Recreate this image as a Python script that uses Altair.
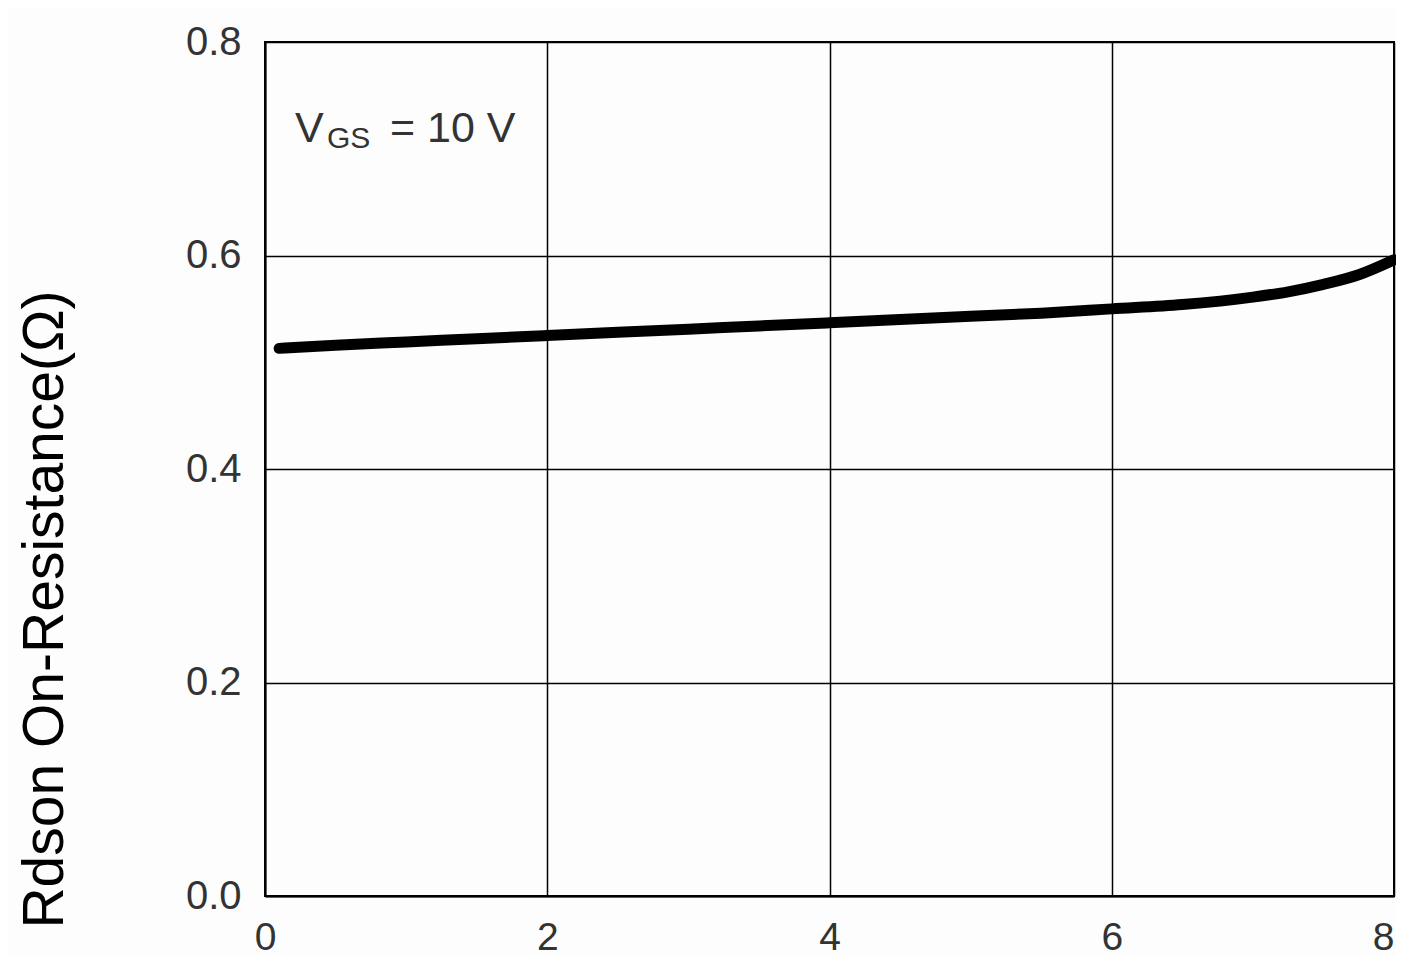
import altair as alt
import pandas as pd

# Curve data
vds = [0.1, 0.5, 1.0, 1.5, 2.0, 2.5, 3.0, 3.5, 4.0, 4.5, 5.0, 5.5, 6.0, 6.5, 7.0, 7.25, 7.5, 7.75, 8.0]
rdson = [0.513, 0.516, 0.519, 0.522, 0.525, 0.528, 0.531, 0.534, 0.537, 0.540, 0.543, 0.546, 0.550, 0.554, 0.561, 0.566, 0.573, 0.582, 0.596]

x_ticks = [0, 2, 4, 6, 8]
y_ticks = [0.0, 0.2, 0.4, 0.6, 0.8]

# Annotation "V_GS = 10 V" parts
ann_text = ["V", "GS", "= 10 V"]
ann_x = [0.213, 0.439, 0.886]
ann_y = [0.7063, 0.7007, 0.7063]
ann_size = [43, 30, 43]

FONT = "Liberation Sans"

df = pd.DataFrame({"x": vds, "y": rdson})
ann = pd.DataFrame({"t": ann_text, "x": ann_x, "y": ann_y, "s": ann_size})

xscale = alt.Scale(domain=[0, 8], nice=False)
yscale = alt.Scale(domain=[0, 0.8], nice=False)

line = alt.Chart(df).mark_line(color="black", strokeWidth=11, interpolate="monotone",
                               strokeCap="round").encode(
    x=alt.X("x:Q", scale=xscale,
            axis=alt.Axis(values=x_ticks, title=None, grid=True, gridColor="black",
                          gridWidth=1.5, gridOpacity=1, ticks=False, domain=True,
                          domainColor="black", domainWidth=2, labelFont=FONT,
                          labelFontSize=39, labelColor="#333333", labelPadding=22,
                          labelFlush=False, labelOverlap=False, format="d",
                          labelAlign=alt.ExprRef(expr="datum.value == 8 ? 'right' : 'center'"))),
    y=alt.Y("y:Q", scale=yscale,
            axis=alt.Axis(values=y_ticks, format=".1f", grid=True, gridColor="black",
                          gridWidth=1.5, gridOpacity=1, ticks=False, domain=True,
                          domainColor="black", domainWidth=2, labelFont=FONT,
                          labelFontSize=40, labelColor="#333333", labelPadding=24,
                          labelFlush=False, labelOverlap=False,
                          title="Rdson On-Resistance(Ω)", titleFont=FONT,
                          titleFontSize=57, titleFontWeight="normal", titleColor="black",
                          titleAngle=270, titleAlign="center", titleBaseline="alphabetic",
                          titleX=-203, titleY=567)),
)

text = alt.Chart(ann).mark_text(align="left", baseline="alphabetic", font=FONT,
                                color="#333333").encode(
    x=alt.X("x:Q", scale=xscale),
    y=alt.Y("y:Q", scale=yscale),
    text="t:N",
    size=alt.Size("s:Q", scale=None, legend=None),
)

chart = (line + text).properties(
    width=1129, height=854,
    autosize=alt.AutoSizeParams(type="none"),
    padding={"left": 257, "top": 34, "right": 2, "bottom": 61},
    background="#fdfdfd",
).configure_view(stroke="black", strokeWidth=2)

chart.save("out.html", embed_options={"renderer": "svg", "actions": False})
